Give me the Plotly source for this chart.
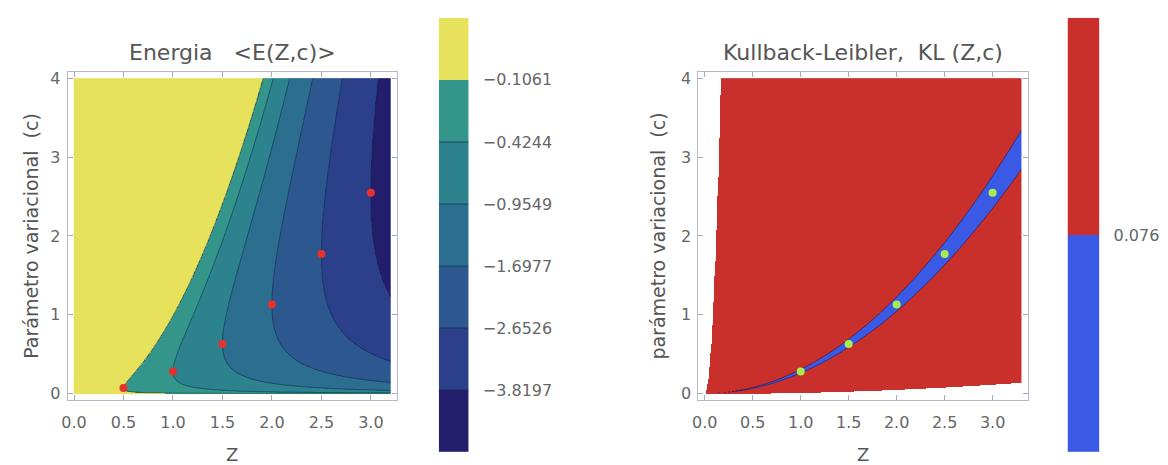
import numpy as np
import plotly.graph_objects as go

# ---------------- data ----------------
# optimal variational parameter points (red dots, left panel)
z_points = [0.5, 1.0, 1.5, 2.0, 2.5, 3.0]
c_points = [0.07, 0.28, 0.63, 1.13, 1.77, 2.55]
# green dots (right panel)
z_points_kl = [1.0, 1.5, 2.0, 2.5, 3.0]
c_points_kl = [0.28, 0.63, 1.13, 1.77, 2.55]

# contour levels (colorbar labels), ascending
energy_levels = [-3.8197, -2.6526, -1.6977, -0.9549, -0.4244, -0.1061]
energy_labels = ["\u22123.8197", "\u22122.6526", "\u22121.6977", "\u22120.9549", "\u22120.4244", "\u22120.1061"]
kl_levels = [0.076]
kl_labels = ["0.076"]
kl_clip = 6.5  # values above the plotted range are left blank

# plotted domains
z_dom_E = [0.0, 3.2]
z_dom_KL = [0.0, 3.3]
c_dom = [0.0, 4.0]

x_ticks = [0.0, 0.5, 1.0, 1.5, 2.0, 2.5, 3.0]
x_tick_labels = ["0.0", "0.5", "1.0", "1.5", "2.0", "2.5", "3.0"]
y_ticks = [0, 1, 2, 3, 4]
y_tick_labels = ["0", "1", "2", "3", "4"]

# band colours, from lowest to highest
energy_colors = ["#221e6c", "#2b3f8b", "#2d578f", "#2c6e8f", "#2c838d", "#34968b", "#e6e25c"]
kl_colors = ["#3a5ae6", "#c9302c"]

# ---------------- surfaces ----------------
zE = np.linspace(z_dom_E[0], z_dom_E[1], 520)
zK = np.linspace(z_dom_KL[0], z_dom_KL[1], 540)
cc = np.linspace(c_dom[0], c_dom[1], 640)

ZE, CE = np.meshgrid(zE, cc)
E = 1.5 * CE - 2.0 * ZE * np.sqrt(2.0 * CE / np.pi)

ZK, CK = np.meshgrid(zK, cc)
Zs = np.maximum(ZK, 1e-9)
Cs = np.maximum(CK, 1e-9)
with np.errstate(divide="ignore", invalid="ignore"):
    KL = (1.5 * np.log(2 * Cs / np.pi) - 1.5 - 3 * np.log(Zs) + np.log(np.pi)
          + 4 * Zs / np.sqrt(2 * np.pi * Cs))

band_E = np.digitize(E, energy_levels).astype(float)
xp = [-1e6] + energy_levels + [1e6]
fp = [-1e6] + list(range(len(energy_levels))) + [1e6]
E_idx = np.interp(E, xp, fp)

band_K = np.digitize(KL, kl_levels).astype(float)
band_K[KL > kl_clip] = np.nan
KL_line = np.minimum(KL, 50)

def step_scale(colors):
    n = len(colors)
    s = []
    for i, col in enumerate(colors):
        s.append([i / n, col])
        s.append([(i + 1) / n, col])
    return s

fig = go.Figure()

# left panel
fig.add_trace(go.Heatmap(x=zE, y=cc, z=band_E, colorscale=step_scale(energy_colors),
                         zmin=-0.5, zmax=len(energy_colors) - 0.5, showscale=False,
                         hoverinfo="skip", xaxis="x", yaxis="y"))
fig.add_trace(go.Contour(x=zE, y=cc, z=E_idx, showscale=False, hoverinfo="skip",
                         contours=dict(coloring="none", start=0, end=len(energy_levels) - 1, size=1),
                         line=dict(color="rgba(20,45,75,0.6)", width=1), xaxis="x", yaxis="y"))
fig.add_trace(go.Scatter(x=z_points, y=c_points, mode="markers", hoverinfo="skip",
                         marker=dict(color="#e8302c", size=8, line=dict(width=0)),
                         xaxis="x", yaxis="y"))

# right panel
fig.add_trace(go.Heatmap(x=zK, y=cc, z=band_K, colorscale=step_scale(kl_colors),
                         zmin=-0.5, zmax=1.5, showscale=False, hoverinfo="skip",
                         xaxis="x2", yaxis="y2"))
fig.add_trace(go.Contour(x=zK, y=cc, z=KL_line, showscale=False, hoverinfo="skip",
                         contours=dict(coloring="none", start=kl_levels[0], end=kl_levels[0], size=0.01),
                         line=dict(color="rgba(25,25,70,0.6)", width=1), xaxis="x2", yaxis="y2"))
fig.add_trace(go.Scatter(x=z_points_kl, y=c_points_kl, mode="markers", hoverinfo="skip",
                         marker=dict(color="#a8ee4e", size=8, line=dict(width=0)),
                         xaxis="x2", yaxis="y2"))

# colour bars
nE = len(energy_colors)
fig.add_trace(go.Heatmap(x=[0], y=list(range(nE)), z=[[i] for i in range(nE)],
                         colorscale=step_scale(energy_colors), zmin=-0.5, zmax=nE - 0.5,
                         showscale=False, hoverinfo="skip", xaxis="x3", yaxis="y3"))
bx, by = [], []
for i in range(len(energy_levels) - 1):
    bx += [-0.5, 0.5, None]
    by += [i + 0.5, i + 0.5, None]
fig.add_trace(go.Scatter(x=bx, y=by, mode="lines", hoverinfo="skip",
                         line=dict(color="rgba(20,45,75,0.45)", width=1.5),
                         xaxis="x3", yaxis="y3"))
nK = len(kl_colors)
fig.add_trace(go.Heatmap(x=[0], y=list(range(nK)), z=[[i] for i in range(nK)],
                         colorscale=step_scale(kl_colors), zmin=-0.5, zmax=nK - 0.5,
                         showscale=False, hoverinfo="skip", xaxis="x4", yaxis="y4"))

W, H = 1168, 465
FONT = "DejaVu Sans"
TXT = "#555555"

def px(x):
    return x / W

def py(y):
    return 1 - y / H

frame = dict(showline=True, mirror="ticks", linecolor="#b8b8c8", linewidth=1,
             ticks="inside", ticklen=5, tickcolor="#a8a8b8", showgrid=False, zeroline=False,
             tickfont=dict(family=FONT, size=16, color="#666666"))

fig.update_layout(
    width=W, height=H, margin=dict(l=0, r=0, t=0, b=0),
    paper_bgcolor="white", plot_bgcolor="white", showlegend=False,
    xaxis=dict(domain=[px(62), px(393)], range=[-0.064, 3.264], anchor="y",
               tickvals=x_ticks, ticktext=x_tick_labels, ticklabelstandoff=8, **frame),
    yaxis=dict(domain=[py(402), py(70)], range=[-0.08, 4.08], anchor="x",
               tickvals=y_ticks, ticktext=y_tick_labels, ticklabelstandoff=3, **frame),
    xaxis2=dict(domain=[px(696), px(1027)], range=[-0.066, 3.366], anchor="y2",
                tickvals=x_ticks, ticktext=x_tick_labels, ticklabelstandoff=8, **frame),
    yaxis2=dict(domain=[py(402), py(70)], range=[-0.08, 4.08], anchor="x2",
                tickvals=y_ticks, ticktext=y_tick_labels, ticklabelstandoff=3, **frame),
    xaxis3=dict(domain=[px(435), px(465)], range=[-0.5, 0.5], anchor="y3",
                visible=False, fixedrange=True),
    yaxis3=dict(domain=[py(455), py(15)], range=[-0.5, nE - 0.5], anchor="x3", side="right",
                tickvals=[i + 0.5 for i in range(len(energy_levels))], ticktext=energy_labels,
                ticks="outside", ticklen=10, tickcolor="rgba(0,0,0,0)", showgrid=False,
                zeroline=False, showline=False,
                tickfont=dict(family=FONT, size=16, color="#666666")),
    xaxis4=dict(domain=[px(1067), px(1099)], range=[-0.5, 0.5], anchor="y4",
                visible=False, fixedrange=True),
    yaxis4=dict(domain=[py(455), py(15)], range=[-0.5, nK - 0.5], anchor="x4", side="right",
                tickvals=[0.5], ticktext=kl_labels,
                ticks="outside", ticklen=10, tickcolor="rgba(0,0,0,0)", showgrid=False,
                zeroline=False, showline=False,
                tickfont=dict(family=FONT, size=16, color="#666666")),
)

ann = [
    dict(text="Energia\u00a0\u00a0\u00a0<E(Z,c)>", x=px(227.5), y=py(50), size=22, angle=0),
    dict(text="Kullback-Leibler,\u00a0\u00a0KL\u00a0(Z,c)", x=px(861.5), y=py(50), size=22, angle=0),
    dict(text="Parámetro variacional\u00a0\u00a0(c)", x=px(25), y=py(236), size=19, angle=-90),
    dict(text="parámetro variacional\u00a0\u00a0(c)", x=px(655), y=py(236), size=19, angle=-90),
    dict(text="Z", x=px(227.5), y=py(457), size=18, angle=0),
    dict(text="Z", x=px(861.5), y=py(457), size=18, angle=0),
]
for a in ann:
    fig.add_annotation(text=a["text"], x=a["x"], y=a["y"], xref="paper", yref="paper",
                       xanchor="center", yanchor="middle", showarrow=False, textangle=a["angle"],
                       font=dict(family=FONT, size=a["size"], color=TXT))

fig.write_html("out.html")
